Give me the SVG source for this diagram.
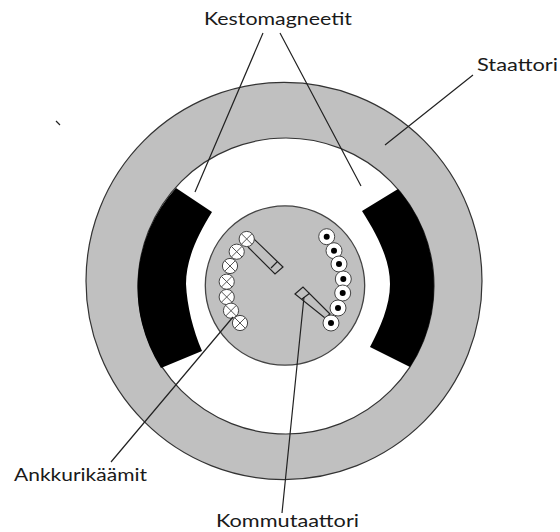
<svg xmlns="http://www.w3.org/2000/svg" width="560" height="532" viewBox="0 0 560 532">
<style>
.l{fill:none;stroke:#222;stroke-width:1.2}
.t{font-family:"Lato","Open Sans","Liberation Sans",sans-serif;font-size:18px;fill:#1a1a1a}
.c{fill:#fff;stroke:#444;stroke-width:1}
.x{fill:none;stroke:#555;stroke-width:1}
</style>
<defs>
<g id="cx"><circle class="c" r="7.600"/><path class="x" d="M-5.300-5.300L5.300 5.300M-5.300 5.300L5.300-5.300"/></g>
<g id="cd"><circle class="c" r="8"/><circle r="3" fill="#000"/></g>
</defs>
<rect width="560" height="532" fill="#fff"/>
<g id="staattori"><path d="M86 281a198 198.500 0 1 0 396 0a198 198.500 0 1 0-396 0ZM138 286a148 148 0 1 1 296 0a148 148 0 1 1-296 0Z" fill="#c0c0c0" fill-rule="evenodd" stroke="#333" stroke-width="1.2"/></g>
<g id="magneetti-vasen"><path d="M176 188L212 212C197 236 186 260 186 284C187 306 193 330 202 351L161 368A149 149 0 0 1 176 188Z" fill="#000"/></g>
<g id="magneetti-oikea"><path d="M398 189L362 211C378 236 390 260 390 284C390 306 380 328 370 347L410 367A149 149 0 0 0 398 189Z" fill="#000"/></g>
<g id="roottori"><circle cx="285" cy="285.500" r="79.700" fill="#c0c0c0" stroke="#444" stroke-width="1.300"/></g>
<g id="kommutaattori">
<path class="l" d="M253 238L283 267L275 274L248 247M277 262L271 268"/>
<path class="l" d="M295 294L303 287L330 314L325 318ZM302 299L310 293"/>
</g>
<g id="kaamit-vasen">
<use href="#cx" x="246.700" y="239"/><use href="#cx" x="236.700" y="251.700"/><use href="#cx" x="230" y="266"/><use href="#cx" x="226.700" y="281.700"/><use href="#cx" x="226.700" y="297"/><use href="#cx" x="231" y="310.700"/><use href="#cx" x="240" y="323"/>
</g>
<g id="kaamit-oikea">
<use href="#cd" x="326.700" y="236.700"/><use href="#cd" x="334" y="250.700"/><use href="#cd" x="339" y="264"/><use href="#cd" x="343.300" y="279"/><use href="#cd" x="342.700" y="293"/><use href="#cd" x="338" y="308"/><use href="#cd" x="331" y="323"/>
</g>
<g id="connectors">
<path class="l" d="M263 33L195 192M280 33L361 186M473 75L385 145M233 317L111 462M304 297L282 513M56 121L60 125"/>
</g>
<g id="labels">
<text class="t" x="204" y="25" textLength="148" lengthAdjust="spacingAndGlyphs">Kestomagneetit</text>
<text class="t" x="477" y="71" textLength="81" lengthAdjust="spacingAndGlyphs">Staattori</text>
<text class="t" x="14" y="481" textLength="133" lengthAdjust="spacingAndGlyphs">Ankkurikäämit</text>
<text class="t" x="216" y="527" textLength="143" lengthAdjust="spacingAndGlyphs">Kommutaattori</text>
</g>
</svg>
